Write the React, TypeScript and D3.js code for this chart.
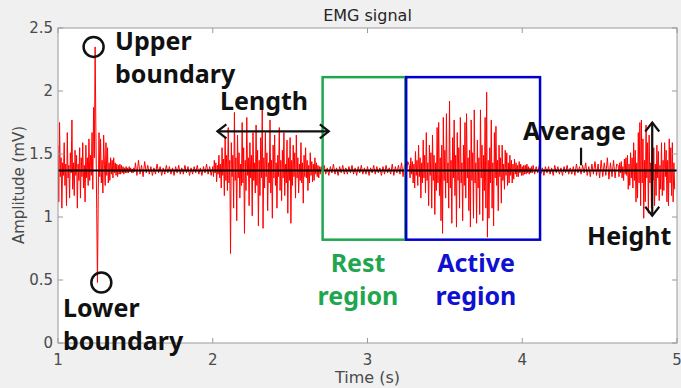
import * as d3 from "d3";

const W = 681;
const H = 388;

// average level of the EMG trace (mV)
const avg = 1.37;

const xTicks = [1, 2, 3, 4, 5];
const yTicks = [0, 0.5, 1, 1.5, 2, 2.5];

// samples, stored as deviation from the average level (mV)
const burst1 = [
  0.2, -0.25, 0.38, -0.05, 0.1, -0.3, 0.06, -0.04, 0.22, -0.12,
  0.05, -0.28, 0.3, -0.06, 0.04, -0.22, 0.14, -0.02, 0.4, -0.15,
  0.06, -0.2, 0.16, -0.04, 0.12, -0.3, 0.05, -0.08, 0.18, -0.22,
  0.1, -0.05, 0.22, -0.14, 0.04, -0.25, 0.2, -0.06, 0.1, -0.12,
  0.25, -0.08, 0.12, -0.04, 0.3, -0.15, 0.5, 0.1, 0.98, 0.3,
  -0.3, -0.89, -0.2, 0.3, -0.05, 0.25, -0.1, 0.08, -0.18, 0.28,
  0.05, -0.12, 0.22, -0.04, 0.18, -0.1, 0.06, -0.08, 0.1, -0.03,
  0.08, -0.06, 0.1, -0.02, 0.06, -0.04, 0.05, -0.05, 0.04, -0.03,
  0.05, -0.03, 0.04, -0.02, 0.03, -0.03, 0.02, -0.02, 0.03, -0.02,
  0.02, -0.02, 0.03, -0.01, 0.02, -0.02, 0.01, -0.02, 0.02, -0.01,
];
const rest1 = [
  0.06, -0.04, 0.08, -0.03, 0.04, -0.05, 0.07, -0.02, 0.04, -0.03,
  0.03, -0.04, 0.02, -0.03, 0.05, -0.02, 0.03, -0.04, 0.02, -0.03,
  0.04, -0.02, 0.03, -0.03, 0.02, -0.04, 0.03, -0.02, 0.04, -0.03,
  0.02, -0.03, 0.04, -0.02, 0.03, -0.04, 0.02, -0.03, 0.03, -0.02,
  0.04, -0.03, 0.02, -0.04, 0.03, -0.02, 0.05, -0.03, 0.03, -0.04,
];
const burst2 = [
  0.03, -0.05, 0.08, -0.02, 0.06, -0.09, 0.04, -0.03, 0.12, -0.06,
  0.05, -0.14, 0.18, -0.04, 0.09, -0.2, 0.26, -0.08, 0.12, -0.16,
  0.34, -0.1, 0.08, -0.66, 0.22, -0.05, 0.12, -0.3, 0.46, -0.08,
  0.1, -0.4, 0.28, -0.06, 0.14, -0.22, 0.05, -0.12, 0.38, -0.1,
  0.18, -0.5, 0.08, -0.16, 0.42, -0.04, 0.1, -0.28, 0.22, -0.06,
  0.12, -0.36, 0.3, -0.08, 0.06, -0.18, 0.36, -0.12, 0.16, -0.44,
  0.08, -0.2, 0.26, -0.06, 0.5, -0.46, 0.1, -0.14, 0.3, -0.05,
  0.14, -0.32, 0.06, -0.1, 0.4, -0.18, 0.08, -0.38, 0.2, -0.06,
  0.28, -0.12, 0.06, -0.3, 0.12, -0.05, 0.34, -0.16, 0.08, -0.24,
  0.16, -0.06, 0.3, -0.2, 0.05, -0.1, 0.24, -0.34, 0.1, -0.08,
  0.26, -0.42, 0.08, -0.12, 0.2, -0.05, 0.14, -0.22, 0.28, -0.06,
  0.1, -0.18, 0.05, -0.08, 0.22, -0.1, 0.06, -0.26, 0.12, -0.05,
  0.18, -0.06, 0.08, -0.16, 0.04, -0.1, 0.14, -0.04, 0.07, -0.09,
  0.05, -0.08, 0.1, -0.03, 0.06, -0.05, 0.04, -0.06, 0.03, -0.03,
];
const rest2 = [
  0.03, -0.02, 0.04, -0.03, 0.02, -0.04, 0.03, -0.02, 0.05, -0.03,
  0.02, -0.04, 0.03, -0.02, 0.04, -0.03, 0.02, -0.03, 0.03, -0.02,
  0.04, -0.03, 0.02, -0.04, 0.03, -0.02, 0.04, -0.03, 0.02, -0.03,
  0.03, -0.04, 0.02, -0.02, 0.04, -0.03, 0.03, -0.02, 0.02, -0.04,
  0.03, -0.03, 0.04, -0.02, 0.02, -0.03, 0.05, -0.04, 0.03, -0.02,
  0.04, -0.03, 0.06, -0.05, 0.05, -0.04, 0.07,
];
const burst3 = [
  0.04, -0.06, 0.1, -0.03, 0.07, -0.1, 0.05, -0.14, 0.15, -0.04,
  0.08, -0.12, 0.2, -0.05, 0.1, -0.22, 0.06, -0.1, 0.24, -0.06,
  0.12, -0.18, 0.3, -0.08, 0.06, -0.28, 0.2, -0.04, 0.14, -0.3,
  0.28, -0.08, 0.12, -0.35, 0.06, -0.16, 0.34, -0.1, 0.38, -0.2,
  0.1, -0.4, 0.2, -0.5, 0.42, -0.08, 0.16, -0.22, 0.45, -0.1,
  0.06, -0.3, 0.55, -0.14, 0.08, -0.42, 0.26, -0.06, 0.4, -0.2,
  0.12, -0.45, 0.3, -0.08, 0.18, -0.3, 0.42, -0.1, 0.06, -0.4,
  0.2, -0.12, 0.38, -0.22, 0.45, -0.06, 0.1, -0.32, 0.16, -0.45,
  0.4, -0.08, 0.14, -0.38, 0.48, -0.1, 0.06, -0.42, 0.24, -0.14,
  0.1, -0.35, 0.48, -0.06, 0.2, -0.4, 0.12, -0.16, 0.42, -0.3,
  0.62, -0.53, 0.08, -0.38, 0.18, -0.1, 0.4, -0.3, 0.06, -0.44,
  0.3, -0.06, 0.35, -0.12, 0.08, -0.32, 0.2, -0.05, 0.1, -0.26,
  0.2, -0.08, 0.05, -0.15, 0.16, -0.04, 0.14, -0.12, 0.06, -0.1,
  0.12, -0.04, 0.08, -0.1, 0.05, -0.07, 0.09, -0.03, 0.06, -0.05,
  0.04, -0.05, 0.07, -0.02, 0.05, -0.04, 0.03, -0.04, 0.04, -0.03,
  0.04, -0.03, 0.05, -0.02, 0.03, -0.03, 0.02, -0.02, 0.03, -0.02,
];
const rest3 = [
  0.04, -0.03, 0.03, -0.02, 0.04, -0.03, 0.02, -0.04, 0.03, -0.02,
  0.03, -0.03, 0.02, -0.04, 0.04, -0.02, 0.03, -0.03, 0.02, -0.04,
  0.03, -0.02, 0.04, -0.03, 0.02, -0.03, 0.03, -0.04, 0.05, -0.02,
  0.03, -0.03, 0.04, -0.02, 0.06, -0.04, 0.03, -0.05, 0.05, -0.03,
  0.07, -0.04, 0.05, -0.06, 0.08, -0.05, 0.06, -0.04, 0.1, -0.07,
  0.06, -0.05, 0.08, -0.06, 0.05,
];
const burst4 = [
  0.04, -0.05, 0.06, -0.02, 0.07, -0.06, 0.03, -0.08, 0.09, -0.03,
  0.1, -0.04, 0.12, -0.15, 0.05, -0.12, 0.14, -0.06, 0.1, -0.14,
  0.22, -0.08, 0.16, -0.25, 0.06, -0.22, 0.3, -0.1, 0.38, -0.28,
  0.4, -0.1, 0.25, -0.38, 0.08, -0.25, 0.36, -0.06, 0.22, -0.34,
  0.28, -0.1, 0.06, -0.3, 0.34, -0.08, 0.18, -0.28, 0.05, -0.2,
  0.2, -0.06, 0.15, -0.24, 0.04, -0.15, 0.22, -0.2, 0.08, -0.16,
  0.22, -0.05, 0.16, -0.25, 0.08, -0.28, 0.25, -0.1, 0.18, -0.2,
  0.22, -0.25, 0.06, -0.15,
];

const segments = [
  { start: 1.0, step: 0.005, dev: burst1 },
  { start: 1.5, step: 0.01, dev: rest1 },
  { start: 2.0, step: 0.005, dev: burst2 },
  { start: 2.7, step: 0.01, dev: rest2 },
  { start: 3.27, step: 0.005, dev: burst3 },
  { start: 4.07, step: 0.01, dev: rest3 },
  { start: 4.62, step: 0.005, dev: burst4 },
];

// regions (time s, amplitude mV)
const restRegion = { t0: 2.71, t1: 3.245, v0: 0.82, v1: 2.11 };
const activeRegion = { t0: 3.25, t1: 4.115, v0: 0.82, v1: 2.11 };

const font = "'Noto Sans', sans-serif";
const axisFont = "'DejaVu Sans', sans-serif";

export default function App() {
  const x = d3.scaleLinear().domain([1, 5]).range([58, 677]);
  const y = d3.scaleLinear().domain([0, 2.5]).range([343, 28]);

  const pts: [number, number][] = [];
  segments.forEach((s) =>
    s.dev.forEach((d, i) => pts.push([s.start + i * s.step, avg + d]))
  );
  const line = d3
    .line<[number, number]>()
    .x((d) => x(d[0]))
    .y((d) => y(d[1]));

  const [x0, x1] = x.range();
  const [y0, y1] = y.range();

  const chevH = (px: number, py: number, dir: number) =>
    `M${px + dir * 9},${py - 7}L${px},${py}L${px + dir * 9},${py + 7}`;
  const chevV = (px: number, py: number, dir: number) =>
    `M${px - 7},${py + dir * 9}L${px},${py}L${px + 7},${py + dir * 9}`;

  const lenY = y(1.68);
  const lenA = x(2.03);
  const lenB = x(2.75);
  const hX = x(4.84);
  const hTop = y(1.75);
  const hBot = y(1.01);

  const txt = { fontFamily: font, fontWeight: 700, fontSize: 25 };

  return (
    <div style={{ position: "absolute", left: 0, top: 0 }}>
      <svg width={W} height={H} style={{ display: "block" }}>
        <defs>
          <clipPath id="plot">
            <rect x={x0} y={y1} width={x1 - x0} height={y0 - y1} />
          </clipPath>
        </defs>
        <rect width={W} height={H} fill="#f0f0f0" />
        <rect x={x0} y={y1} width={x1 - x0} height={y0 - y1} fill="#fff" />

        <path
          d={line(pts) ?? ""}
          fill="none"
          stroke="#ff0000"
          strokeWidth={1}
          clipPath="url(#plot)"
        />
        <line x1={x0} x2={x1} y1={y(avg)} y2={y(avg)} stroke="#000" strokeWidth={2} />

        {/* axes box and ticks */}
        <rect
          x={x0}
          y={y1}
          width={x1 - x0}
          height={y0 - y1}
          fill="none"
          stroke="#9a9a9a"
          strokeWidth={1}
        />
        {xTicks.map((t) => (
          <g key={"x" + t}>
            <line x1={x(t)} x2={x(t)} y1={y0} y2={y0 - 5} stroke="#9a9a9a" />
            <line x1={x(t)} x2={x(t)} y1={y1} y2={y1 + 5} stroke="#9a9a9a" />
            <text
              x={x(t)}
              y={365}
              textAnchor="middle"
              fontFamily={axisFont}
              fontSize={15}
              fill="#4a4a4a"
            >
              {t}
            </text>
          </g>
        ))}
        {yTicks.map((t) => (
          <g key={"y" + t}>
            <line x1={x0} x2={x0 + 5} y1={y(t)} y2={y(t)} stroke="#9a9a9a" />
            <line x1={x1} x2={x1 - 5} y1={y(t)} y2={y(t)} stroke="#9a9a9a" />
            <text
              x={53}
              y={y(t)}
              dy="0.36em"
              textAnchor="end"
              fontFamily={axisFont}
              fontSize={15}
              fill="#4a4a4a"
            >
              {t}
            </text>
          </g>
        ))}
        <text
          x={(x0 + x1) / 2}
          y={21}
          textAnchor="middle"
          fontFamily={axisFont}
          fontSize={16}
          fill="#262626"
        >
          EMG signal
        </text>
        <text
          x={(x0 + x1) / 2}
          y={383}
          textAnchor="middle"
          fontFamily={axisFont}
          fontSize={16}
          fill="#4a4a4a"
        >
          Time (s)
        </text>
        <text
          transform={`translate(24,185) rotate(-90)`}
          textAnchor="middle"
          fontFamily={axisFont}
          fontSize={15}
          fill="#4a4a4a"
        >
          Amplitude (mV)
        </text>

        {/* regions */}
        <rect
          x={x(restRegion.t0)}
          y={y(restRegion.v1)}
          width={x(restRegion.t1) - x(restRegion.t0)}
          height={y(restRegion.v0) - y(restRegion.v1)}
          fill="none"
          stroke="#1fa64f"
          strokeWidth={2.5}
        />
        <rect
          x={x(activeRegion.t0)}
          y={y(activeRegion.v1)}
          width={x(activeRegion.t1) - x(activeRegion.t0)}
          height={y(activeRegion.v0) - y(activeRegion.v1)}
          fill="none"
          stroke="#0000cc"
          strokeWidth={2.5}
        />

        {/* boundary circles */}
        <circle cx={x(1.23)} cy={y(2.35)} r={10} fill="none" stroke="#111" strokeWidth={2.5} />
        <circle cx={x(1.28)} cy={y(0.48)} r={10} fill="none" stroke="#111" strokeWidth={2.5} />

        {/* arrows and average marker */}
        <g stroke="#111" strokeWidth={2.2} fill="none">
          <line x1={lenA} x2={lenB} y1={lenY} y2={lenY} />
          <path d={chevH(lenA, lenY, 1)} />
          <path d={chevH(lenB, lenY, -1)} />
          <line x1={hX} x2={hX} y1={hTop} y2={hBot} />
          <path d={chevV(hX, hTop, 1)} />
          <path d={chevV(hX, hBot, -1)} />
          <line x1={x(4.38)} x2={x(4.38)} y1={y(1.55)} y2={y(1.41)} />
        </g>

        <g {...txt} fill="#111">
          <text x={115} y={50}>Upper</text>
          <text x={115} y={83}>boundary</text>
          <text x={63} y={317}>Lower</text>
          <text x={63} y={350}>boundary</text>
          <text x={220} y={110}>Length</text>
          <text x={523} y={140}>Average</text>
          <text x={587} y={245}>Height</text>
        </g>
        <g {...txt} fill="#1fa64f" textAnchor="middle">
          <text x={358} y={272}>Rest</text>
          <text x={358} y={305}>region</text>
        </g>
        <g {...txt} fill="#1010d0" textAnchor="middle">
          <text x={476} y={272}>Active</text>
          <text x={476} y={305}>region</text>
        </g>
      </svg>
    </div>
  );
}
